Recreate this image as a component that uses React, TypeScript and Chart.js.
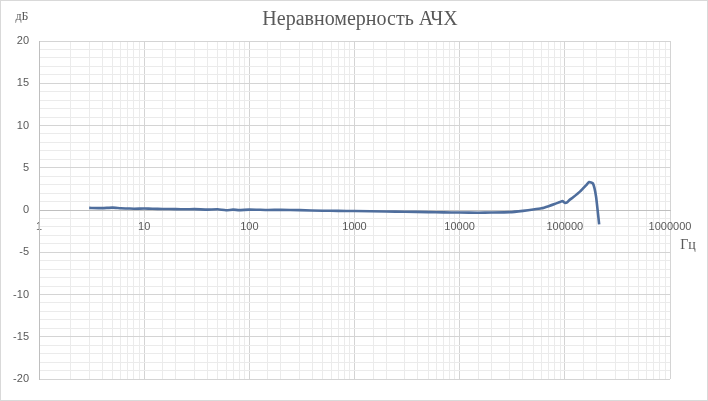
import { useEffect, useRef } from 'react'
import { Chart, registerables } from 'chart.js'

Chart.register(...registerables)

// frequency, Hz
const FREQ = [
  3, 4, 5, 6, 7, 8, 10, 12, 15, 20, 25, 30, 40, 50, 60, 70, 80, 100, 150, 200, 300, 500, 700,
  1000, 2000, 3000, 5000, 7000, 10000, 15000, 20000, 30000, 40000, 50000, 60000, 70000, 80000,
  90000, 95000, 100000, 105000, 110000, 120000, 140000, 160000, 170000, 185000, 198000, 212000,
]
// deviation, dB
const GAIN_DB = [
  0.25, 0.22, 0.28, 0.2, 0.18, 0.15, 0.17, 0.15, 0.12, 0.1, 0.08, 0.1, 0.05, 0.08, -0.03, 0.04, -0.02, 0.05, 0.0, 0.02, -0.02, -0.08, -0.1,
  -0.12, -0.18, -0.2, -0.25, -0.28, -0.3, -0.32, -0.3, -0.25, -0.1, 0.05, 0.2, 0.45, 0.7,
  0.95, 1.05, 0.85, 0.9, 1.15, 1.5, 2.2, 2.95, 3.3, 3.15, 1.6, -1.7,
]
const X_DECADES = [1, 10, 100, 1000, 10000, 100000, 1000000]
const Y_LABELS = [-20, -15, -10, -5, 0, 5, 10, 15, 20]
const TITLE = 'Неравномерность АЧХ'

const TEXT = '#595959'
const isDecade = (v: number) => X_DECADES.some(d => Math.abs(Math.log10(v) - Math.log10(d)) < 1e-9)

const extras = {
  id: 'extras',
  afterDraw(chart: Chart) {
    const { ctx, width, height } = chart
    ctx.save()
    ctx.strokeStyle = '#d9d9d9'
    ctx.lineWidth = 1
    ctx.strokeRect(0.5, 0.5, width - 1, height - 1)
    ctx.fillStyle = TEXT
    ctx.textAlign = 'center'
    ctx.textBaseline = 'middle'
    ctx.font = '20px "Liberation Serif"'
    ctx.fillText(TITLE, 360, 20)
    ctx.font = '12px "Liberation Serif"'
    ctx.fillText('дБ', 22, 17)
    ctx.font = '14px "Liberation Serif"'
    ctx.fillText('Гц', 688, 245)
    ctx.restore()
  },
}

export default function App() {
  const canvasRef = useRef<HTMLCanvasElement>(null)
  const chartRef = useRef<Chart | null>(null)

  useEffect(() => {
    document.body.style.margin = '0'
    if (!canvasRef.current) return
    if (chartRef.current) chartRef.current.destroy()

    chartRef.current = new Chart(canvasRef.current, {
      type: 'line',
      data: {
        datasets: [
          {
            label: 'АЧХ',
            data: FREQ.map((f, i) => ({ x: f, y: GAIN_DB[i] })),
            borderColor: '#4f6e9d',
            borderWidth: 2.6,
            pointRadius: 0,
            tension: 0.15,
          },
        ],
      },
      options: {
        animation: false,
        responsive: true,
        maintainAspectRatio: false,
        layout: { padding: { left: 0, right: 38, top: 41, bottom: 22 } },
        plugins: {
          legend: { display: false },
          tooltip: { enabled: false },
          title: { display: false },
        },
        scales: {
          x: {
            type: 'logarithmic',
            min: 1,
            max: 1000000,
            position: { y: 0 },
            border: { color: '#bfbfbf' },
            grid: {
              drawTicks: false,
              color: (c: any) => (c.tick && isDecade(c.tick.value) ? '#d4d4d4' : '#ebebeb'),
            },
            ticks: {
              autoSkip: false,
              maxRotation: 0,
              padding: 10,
              color: TEXT,
              font: { family: '"Liberation Sans"', size: 11 },
              callback: (v: any) => (isDecade(Number(v)) ? String(Math.round(Number(v))) : ''),
            },
          },
          y: {
            min: -20,
            max: 20,
            afterFit: (s: any) => { s.width = 39 },
            border: { color: '#bfbfbf' },
            grid: {
              drawTicks: false,
              color: (c: any) => (c.tick && Y_LABELS.includes(c.tick.value) ? '#d4d4d4' : '#ebebeb'),
            },
            ticks: {
              stepSize: 1,
              autoSkip: false,
              padding: 10,
              color: TEXT,
              font: { family: '"Liberation Sans"', size: 11 },
              callback: (v: any) => (Y_LABELS.includes(Number(v)) ? String(v) : ''),
            },
          },
        },
      },
      plugins: [extras],
    })
    return () => { if (chartRef.current) chartRef.current.destroy() }
  }, [])

  return (
    <div style={{ position: 'relative', width: 708, height: 401, overflow: 'hidden', background: '#fff' }}>
      <canvas ref={canvasRef} />
    </div>
  )
}
